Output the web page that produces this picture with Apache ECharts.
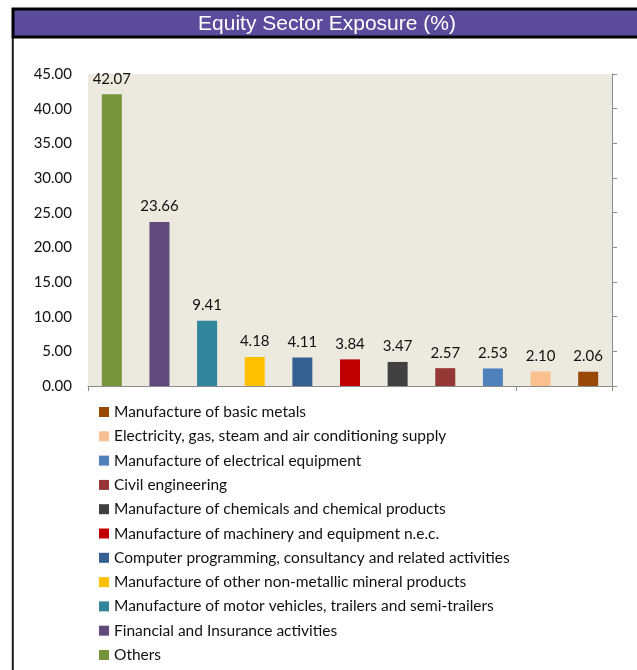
<!DOCTYPE html>
<html>
<head>
<meta charset="utf-8">
<script src="https://cdn.jsdelivr.net/npm/echarts@6/dist/echarts.min.js"></script>
<style>
html,body{margin:0;padding:0;background:#fff;}
#chart{width:637px;height:670px;}
</style>
</head>
<body>
<div id="chart"></div>
<script>
const titleText = 'Equity Sector Exposure (%)';
const categories = [
  'Others',
  'Financial and Insurance activities',
  'Manufacture of motor vehicles, trailers and semi-trailers',
  'Manufacture of other non-metallic mineral products',
  'Computer programming, consultancy and related activities',
  'Manufacture of machinery and equipment n.e.c.',
  'Manufacture of chemicals and chemical products',
  'Civil engineering',
  'Manufacture of electrical equipment',
  'Electricity, gas, steam and air conditioning supply',
  'Manufacture of basic metals'
];
const values = [42.07, 23.66, 9.41, 4.18, 4.11, 3.84, 3.47, 2.57, 2.53, 2.10, 2.06];
const colors = ['#77933C', '#604A7B', '#31859C', '#FFC000', '#376092', '#C00000', '#404040', '#953735', '#4F81BD', '#FAC090', '#984807'];
const yTicks = [0, 5, 10, 15, 20, 25, 30, 35, 40, 45];

const chart = echarts.init(document.getElementById('chart'));
const font = 'Lato';
const series = categories.map((name, i) => ({
  name: name,
  type: 'bar',
  stack: 'all',
  barWidth: 20,
  itemStyle: { color: colors[i] },
  label: {
    show: true,
    position: 'top',
    distance: 8,
    fontFamily: font,
    fontSize: 15,
    color: '#111',
    formatter: p => Number(p.value).toFixed(2)
  },
  data: categories.map((c, j) => j === i ? values[i] : null)
}));

chart.setOption({
  animation: false,
  backgroundColor: '#fff',
  grid: {
    left: 88, right: 25, top: 74, bottom: 284,
    show: true, backgroundColor: '#ECE9DF', borderWidth: 0
  },
  graphic: [
    { type: 'rect', shape: { x: 13, y: 9, width: 640, height: 28 },
      style: { fill: '#5B4B9C', stroke: '#000', lineWidth: 3 } },
    { type: 'line', shape: { x1: 12.8, y1: 38, x2: 12.8, y2: 672 },
      style: { stroke: '#1a1a1a', lineWidth: 2 } },
    { type: 'text', x: 327, y: 24,
      style: { text: titleText, fill: '#fff', font: '21px "Liberation Sans", Arial, sans-serif',
        textAlign: 'center', textVerticalAlign: 'middle' } }
  ],
  legend: {
    orient: 'vertical',
    left: 99, top: 404, height: 300, padding: 0,
    itemWidth: 10, itemHeight: 10, itemGap: 8.3,
    icon: 'rect',
    textStyle: { fontFamily: font, fontSize: 15.5, lineHeight: 15, color: '#111' },
    data: categories.slice().reverse()
  },
  xAxis: {
    type: 'category',
    data: categories,
    axisLine: { lineStyle: { color: '#8c8c8c', width: 1 } },
    axisTick: { show: true, length: 5, lineStyle: { color: '#8c8c8c' } },
    axisLabel: { show: false },
    splitLine: { show: false }
  },
  yAxis: [
    {
      type: 'value', min: yTicks[0], max: yTicks[yTicks.length - 1], interval: 5,
      position: 'left',
      axisLine: { show: false }, axisTick: { show: false }, splitLine: { show: false },
      axisLabel: { margin: 16, fontFamily: font, fontSize: 15, color: '#111',
        formatter: v => v.toFixed(2) }
    },
    {
      type: 'value', min: yTicks[0], max: yTicks[yTicks.length - 1], interval: 5,
      position: 'right',
      axisLine: { show: true, lineStyle: { color: '#8c8c8c', width: 1 } },
      axisTick: { show: true, length: 5, inside: false, lineStyle: { color: '#8c8c8c' } },
      axisLabel: { show: false }, splitLine: { show: false }
    }
  ],
  series: series
});
</script>
</body>
</html>
